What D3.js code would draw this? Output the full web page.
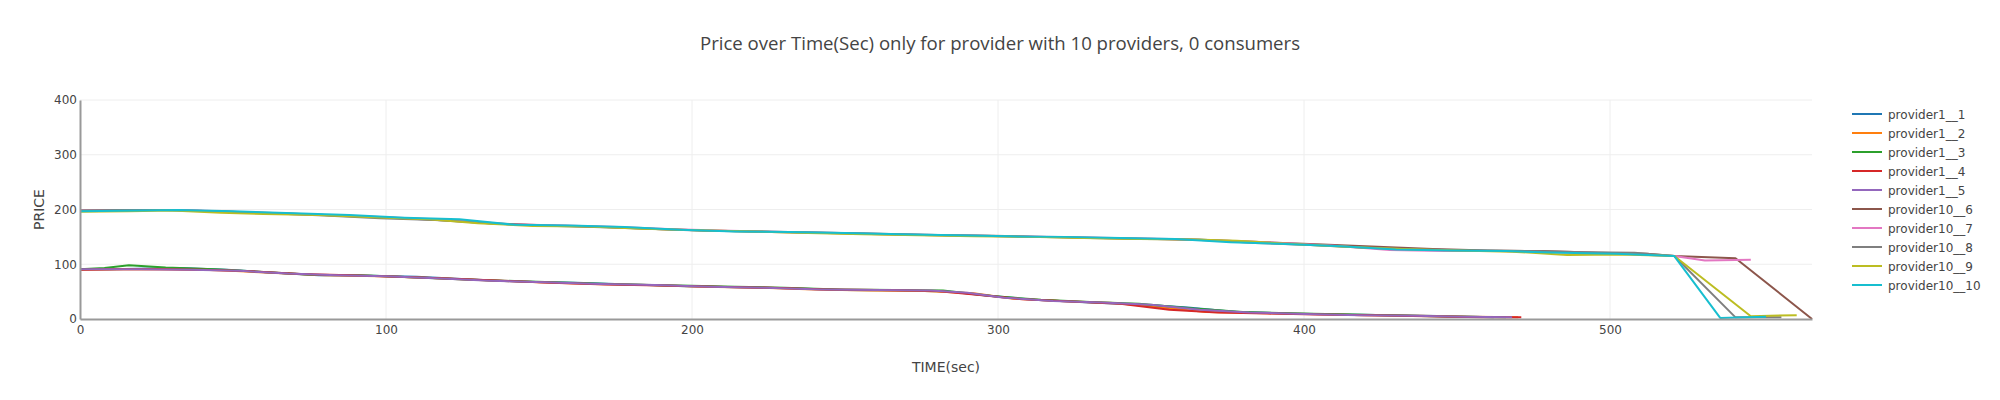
<!DOCTYPE html>
<html>
<head>
<meta charset="utf-8">
<script src="https://cdn.jsdelivr.net/npm/d3@7"></script>
<style>
  html, body { margin: 0; padding: 0; background: #fff; }
  svg { display: block; }
</style>
</head>
<body>
<svg id="chart" width="2000" height="400"></svg>
<script>
// ---------- data ----------
const seriesNames = ["provider1__1","provider1__2","provider1__3","provider1__4","provider1__5",
  "provider10__6","provider10__7","provider10__8","provider10__9","provider10__10"];
const seriesColors = ["#1f77b4","#ff7f0e","#2ca02c","#d62728","#9467bd",
  "#8c564b","#e377c2","#7f7f7f","#bcbd22","#17becf"];

const p1_1_t = [0,10,32,48,62,78,95,110,128,145,162,180,198,215,232,250,268,284,296,312,330,348,362,378,395,412,430,448,462];
const p1_1_v = [91,91,93,90,85,80,79,77,72,68,66,63,60,58,56,53,52,50,43,35,30,26,21,13,10,8,7,5,3];

const p1_2_t = [0,14,30,46,64,80,98,115,132,150,168,186,204,222,240,258,276,292,305,320,338,352,368,384,402,420,438,455,470];
const p1_2_v = [90,91,91,89,84,80,78,75,71,67,64,62,59,57,54,52,51,47,37,33,29,22,13,11,9,7,6,4,3];

const p1_3_t = [0,8,16,28,44,60,76,92,110,126,144,160,178,196,214,230,248,266,282,298,314,330,346,364,380,398,416,434,450,466];
const p1_3_v = [91,93,98,94,91,86,81,80,76,72,69,66,63,61,59,57,54,53,52,42,35,31,28,19,13,10,8,6,4,3];

const p1_4_t = [0,12,26,40,56,72,88,104,120,138,154,172,190,208,226,244,262,280,294,308,324,340,356,372,388,404,422,440,458,471];
const p1_4_v = [90,91,91,90,87,82,80,77,74,70,66,63,61,59,57,54,53,51,44,36,32,28,17,12,10,8,7,5,3,3];

const p1_5_t = [0,20,36,52,68,84,100,118,134,152,170,188,206,224,242,260,278,290,302,318,334,350,366,382,400,418,436,452,468];
const p1_5_v = [91,91,90,88,83,80,78,74,70,67,64,62,59,57,54,53,52,48,39,33,30,26,17,12,9,7,6,4,3];

const p10_6_t = [0,14,30,48,66,84,102,120,136,154,172,190,208,226,244,262,280,298,316,334,352,370,388,406,424,442,460,478,496,512,521,541,566];
const p10_6_v = [198,199,199,196,193,189,185,180,174,171,168,164,161,159,157,155,153,152,150,148,146,144,140,136,132,128,125,124,121,119,115,111,0];

const p10_7_t = [0,18,34,50,68,86,104,122,140,158,176,194,212,230,248,266,284,302,320,338,356,374,392,410,428,446,464,482,500,521,531,546];
const p10_7_v = [198,199,199,196,192,189,185,181,173,171,168,164,161,159,157,155,153,151,150,148,146,143,139,134,126,124,124,122,120,115,107,108];

const p10_8_t = [0,12,28,44,62,80,98,116,134,150,168,186,204,222,240,258,276,294,312,330,348,366,384,402,420,438,456,474,492,508,521,541,556];
const p10_8_v = [198,199,199,197,193,189,184,181,175,171,168,165,161,160,158,156,154,152,150,148,146,145,139,135,130,127,125,124,122,121,115,3,3];

const p10_9_t = [0,16,30,46,60,78,96,114,130,148,166,184,202,220,238,256,274,292,310,328,346,364,378,396,414,432,450,468,486,504,521,546,561];
const p10_9_v = [196,197,198,194,192,190,186,182,175,170,169,165,162,160,157,155,153,151,150,148,146,145,143,137,132,128,125,123,117,118,115,5,7];

const p10_10_t = [0,20,32,50,70,88,106,124,142,160,178,196,214,232,250,268,286,304,322,340,358,376,394,412,430,448,466,484,502,521,536,551];
const p10_10_v = [197,198,199,197,193,190,185,182,172,171,168,163,160,159,157,155,153,151,150,148,146,140,137,133,127,125,124,121,119,115,2,4];

const xTicks = [0,100,200,300,400,500];
const yTicks = [0,100,200,300,400];

const titleText = "Price over Time(Sec) only for provider with 10 providers, 0 consumers";
const xTitle = "TIME(sec)";
const yTitle = "PRICE";

const seriesT = [p1_1_t,p1_2_t,p1_3_t,p1_4_t,p1_5_t,p10_6_t,p10_7_t,p10_8_t,p10_9_t,p10_10_t];
const seriesV = [p1_1_v,p1_2_v,p1_3_v,p1_4_v,p1_5_v,p10_6_v,p10_7_v,p10_8_v,p10_9_v,p10_10_v];

// ---------- layout ----------
const svg = d3.select("#chart");
const L = 80, R = 1812, T = 100, B = 319;
const tickFont = "'DejaVu Sans', Verdana, sans-serif";

const x = d3.scaleLinear().domain([0, 566]).range([L, R]);
const y = d3.scaleLinear().domain([0, 400]).range([B, T]);

// grid
svg.append("g").selectAll("line.gx").data(xTicks.filter(d => d > 0)).join("line")
  .attr("x1", d => x(d)).attr("x2", d => x(d)).attr("y1", T).attr("y2", B)
  .attr("stroke", "#eee").attr("stroke-width", 1);
svg.append("g").selectAll("line.gy").data(yTicks.filter(d => d > 0)).join("line")
  .attr("x1", L).attr("x2", R).attr("y1", d => y(d)).attr("y2", d => y(d))
  .attr("stroke", "#eee").attr("stroke-width", 1);

// lines
const line = d3.line().x(d => x(d[0])).y(d => y(d[1]));
const plot = svg.append("g");
seriesNames.forEach((name, i) => {
  const pts = seriesT[i].map((t, k) => [t, seriesV[i][k]]);
  plot.append("path").datum(pts)
    .attr("d", line)
    .attr("fill", "none")
    .attr("stroke", seriesColors[i])
    .attr("stroke-width", 2)
    .attr("stroke-linejoin", "round");
});

// axes
const xAxis = d3.axisBottom(x).tickValues(xTicks).tickSize(0).tickPadding(6);
const gx = svg.append("g").attr("transform", `translate(0,${B})`).call(xAxis);
gx.select(".domain").attr("stroke", "#999").attr("stroke-width", 2);
gx.selectAll("text").attr("font-family", tickFont).attr("font-size", 12).attr("fill", "#444");

const yAxis = d3.axisLeft(y).tickValues(yTicks).tickSize(0).tickPadding(3);
const gy = svg.append("g").attr("transform", `translate(${L},0)`).call(yAxis);
gy.select(".domain").attr("stroke", "#999").attr("stroke-width", 2);
gy.selectAll("text").attr("font-family", tickFont).attr("font-size", 12).attr("fill", "#444");

// titles
svg.append("text").attr("x", 1000).attr("y", 50).attr("text-anchor", "middle")
  .attr("font-family", "'Open Sans', sans-serif").attr("font-size", 18.6).attr("fill", "#444")
  .text(titleText);
svg.append("text").attr("x", (L + R) / 2).attr("y", 372).attr("text-anchor", "middle")
  .attr("font-family", tickFont).attr("font-size", 14).attr("fill", "#444").text(xTitle);
svg.append("text").attr("transform", `translate(44,${(T + B) / 2}) rotate(-90)`)
  .attr("text-anchor", "middle")
  .attr("font-family", tickFont).attr("font-size", 14).attr("fill", "#444").text(yTitle);

// legend
const lg = svg.append("g").attr("transform", "translate(1852,114)");
seriesNames.forEach((name, i) => {
  const row = lg.append("g").attr("transform", `translate(0,${i * 19})`);
  row.append("line").attr("x1", 0).attr("x2", 30).attr("y1", 0).attr("y2", 0)
    .attr("stroke", seriesColors[i]).attr("stroke-width", 2);
  row.append("text").attr("x", 36).attr("y", 4.5)
    .attr("font-family", tickFont).attr("font-size", 12).attr("fill", "#444").text(name);
});
</script>
</body>
</html>
